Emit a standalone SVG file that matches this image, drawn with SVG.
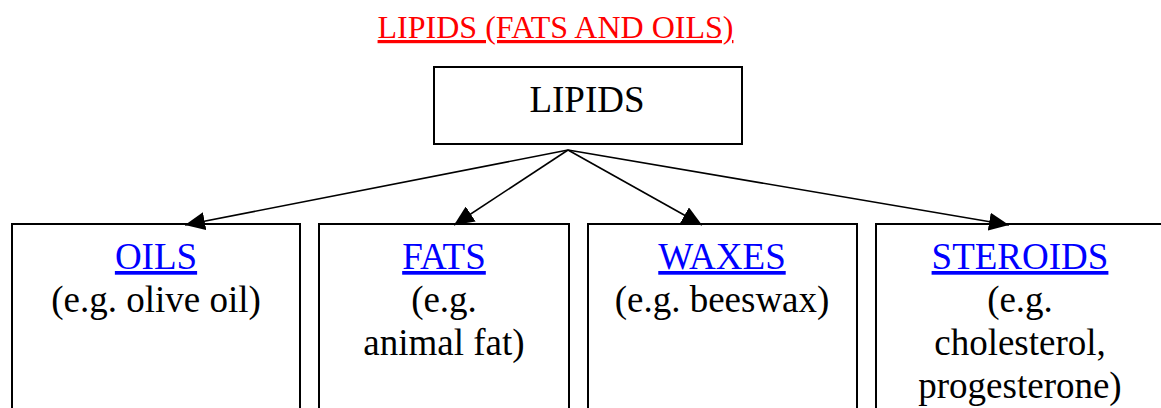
<svg xmlns="http://www.w3.org/2000/svg" width="1161" height="408" viewBox="0 0 1161 408">
  <style>
    text { font-family: "Liberation Serif", "Times New Roman", serif; text-anchor: middle; }
    .title { font-size: 32px; fill: #ff0000; text-decoration: underline; }
    .head { font-size: 37px; fill: #000000; }
    .link { font-size: 37px; fill: #0000ff; text-decoration: underline; }
    .body { font-size: 37px; fill: #000000; }
    .box { fill: #ffffff; stroke: #000000; stroke-width: 2; }
    .edge { fill: none; stroke: #000000; stroke-width: 1.6; marker-end: url(#arrow); }
  </style>
  <defs>
    <marker id="arrow" viewBox="0 0 20 18" refX="20" refY="9" markerWidth="20" markerHeight="18" markerUnits="userSpaceOnUse" orient="auto">
      <path d="M0,0 L20,9 L0,18 z" fill="#000000"/>
    </marker>
  </defs>
  <rect width="1161" height="408" fill="#ffffff"/>

  <text id="title" class="title" x="555.5" y="38">LIPIDS (FATS AND OILS)</text>

  <g id="lipids">
    <rect class="box" x="434" y="67" width="308" height="77"/>
    <text class="head" x="587" y="112">LIPIDS</text>
  </g>

  <g id="oils">
    <rect class="box" x="12" y="224" width="288" height="200"/>
    <text class="link" x="156" y="269">OILS</text>
    <text class="body" x="156" y="312">(e.g. olive oil)</text>
  </g>

  <g id="fats">
    <rect class="box" x="319" y="224" width="250" height="200"/>
    <text class="link" x="444" y="269">FATS</text>
    <text class="body" x="444" y="312">(e.g.</text>
    <text class="body" x="444" y="355">animal fat)</text>
  </g>

  <g id="waxes">
    <rect class="box" x="588" y="224" width="269" height="200"/>
    <text class="link" x="722" y="269">WAXES</text>
    <text class="body" x="722" y="312">(e.g. beeswax)</text>
  </g>

  <g id="steroids">
    <rect class="box" x="876" y="224" width="300" height="200"/>
    <text class="link" x="1020" y="269">STEROIDS</text>
    <text class="body" x="1020" y="312">(e.g.</text>
    <text class="body" x="1020" y="355">cholesterol,</text>
    <text class="body" x="1020" y="398">progesterone)</text>
  </g>

  <g id="connectors">
    <line class="edge" x1="568" y1="150" x2="185" y2="225"/>
    <line class="edge" x1="568" y1="150" x2="454" y2="225"/>
    <line class="edge" x1="568" y1="150" x2="702" y2="225"/>
    <line class="edge" x1="568" y1="150" x2="1009" y2="225"/>
  </g>
</svg>
